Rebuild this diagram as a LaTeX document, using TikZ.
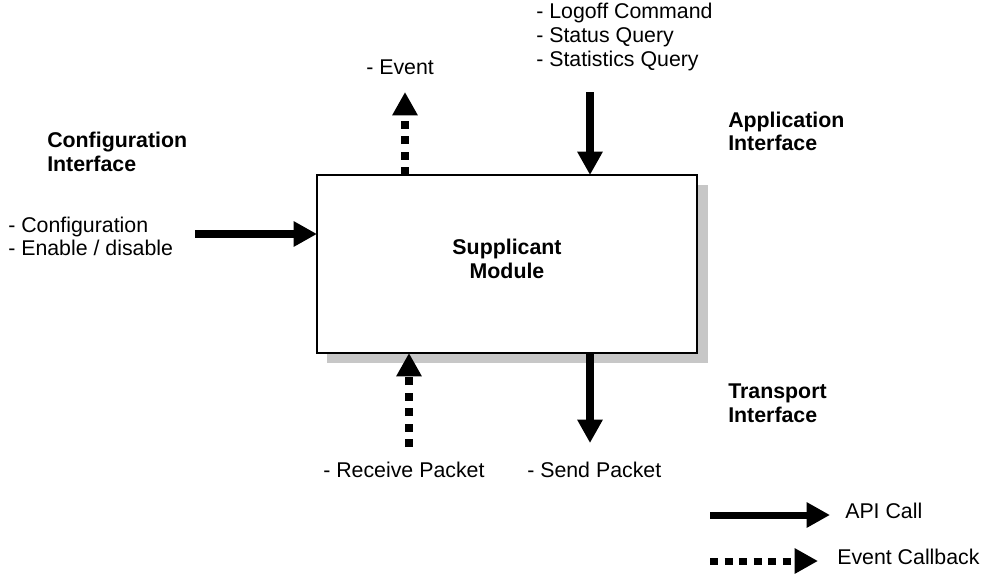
\documentclass[tikz,border=0pt]{standalone}
\usepackage{fontspec}
\setmainfont{Liberation Sans}
\usetikzlibrary{arrows.meta}
\begin{document}
\begin{tikzpicture}[x=0.75pt,y=-0.75pt,
  lbl/.style={anchor=base west, inner sep=0pt, font=\fontsize{16}{19}\selectfont},
  ttl/.style={lbl, font=\fontsize{16}{19}\selectfont\bfseries},
  ctr/.style={ttl, anchor=base},
  api/.style={line width=6pt, -{Triangle[length=17.5pt,width=18pt]}},
  evt/.style={line width=6pt, dash pattern=on 6pt off 5.6pt, -{Triangle[length=17.5pt,width=18pt]}},
  shade/.style={fill=black!22},
  modbox/.style={draw, line width=2pt, fill=white, inner sep=0pt, outer sep=0pt,
                 minimum width=285pt, minimum height=133.5pt},
]
\useasboundingbox (0,0) rectangle (995,575);

% module with its shadow
\fill[shade] (327,185) rectangle (708,363);
\node[modbox] (sup) at (507,264) {};
\node[ctr] (sup-l1) at (507,254) {Supplicant};
\node[ctr] (sup-l2) at (507,278) {Module};

% configuration interface
\node[ttl] (cfg-t1) at (47,147) {Configuration};
\node[ttl] (cfg-t2) at (47,171) {Interface};
\node[lbl] (cfg-l1) at (8,232) {- Configuration};
\node[lbl] (cfg-l2) at (8,255) {- Enable / disable};
\coordinate (cfg-start) at (195,234);
\draw[api] (cfg-start) -- (cfg-start -| sup.west);

% application interface
\node[ttl] (app-t1) at (728,127) {Application};
\node[ttl] (app-t2) at (728,150) {Interface};
\node[lbl] (app-l1) at (536,18) {- Logoff Command};
\node[lbl] (app-l2) at (536,42) {- Status Query};
\node[lbl] (app-l3) at (536,66) {- Statistics Query};
\coordinate (app-start) at (590,92);
\draw[api] (app-start) -- (app-start |- sup.north);

% event callback upwards
\node[lbl] (evt-l) at (366,74) {- Event};
\coordinate (evt-end) at (405,92);
\draw[evt] (evt-end |- sup.north) -- (evt-end);

% transport interface
\node[ttl] (trn-t1) at (728,398) {Transport};
\node[ttl] (trn-t2) at (728,422) {Interface};
\coordinate (rcv-start) at (409,447);
\draw[evt] (rcv-start) -- (rcv-start |- sup.south);
\coordinate (snd-end) at (590,443);
\draw[api] (snd-end |- sup.south) -- (snd-end);
\node[lbl] (rcv-l) at (323,477) {- Receive Packet};
\node[lbl] (snd-l) at (527,477) {- Send Packet};

% legend
\coordinate (lg-a1) at (710,515);
\coordinate (lg-a2) at (830,515);
\draw[api, line width=5.25pt] (lg-a1) -- (lg-a2);
\node[lbl] (lg-at) at (845,518) {API Call};
\coordinate (lg-e1) at (710,561);
\coordinate (lg-e2) at (818,561);
\draw[evt, line width=5.25pt, dash pattern=on 6pt off 4.9pt] (lg-e1) -- (lg-e2);
\node[lbl] (lg-et) at (837,564) {Event Callback};
\end{tikzpicture}
\end{document}
